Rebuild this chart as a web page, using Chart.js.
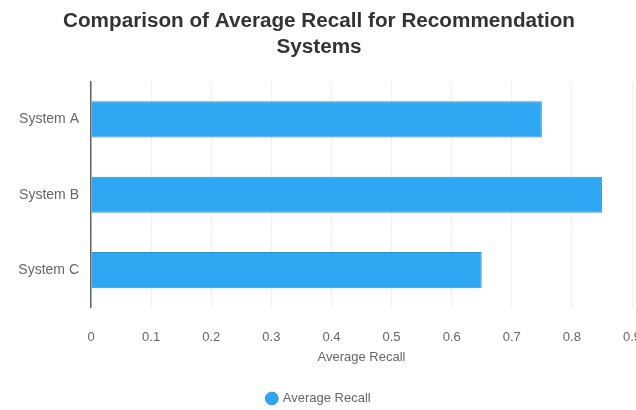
<!DOCTYPE html>
<html>
<head>
<meta charset="utf-8">
<script src="https://cdn.jsdelivr.net/npm/chart.js@4/dist/chart.umd.min.js"></script>
<style>
  html, body { margin: 0; padding: 0; background: #fff; }
  #wrap { width: 636px; height: 410px; }
</style>
</head>
<body>
<div id="wrap"><canvas id="chart"></canvas></div>
<script>
const systems = ["System A", "System B", "System C"];
const avgRecall = [0.75, 0.85, 0.65];
const seriesLabel = "Average Recall";
const chartTitle = ["Comparison of Average Recall for Recommendation", "Systems"];

const barColor = "#2ea6f2";
const barEdge = "#2b93dc";
const tickColor = "#666";
const fontFamily = "Liberation Sans, Arial, sans-serif";

new Chart(document.getElementById("chart"), {
  type: "bar",
  data: {
    labels: systems,
    datasets: [
      {
        label: seriesLabel,
        data: avgRecall,
        backgroundColor: barColor,
        borderColor: barEdge,
        borderWidth: 1,
        barPercentage: 0.6,
        categoryPercentage: 0.8,
      },
    ],
  },
  options: {
    indexAxis: "y",
    responsive: true,
    maintainAspectRatio: false,
    animation: false,
    layout: { padding: { left: 2, right: 0, top: 2, bottom: -5 } },
    plugins: {
      title: {
        display: true,
        text: chartTitle,
        color: "#333",
        font: { family: fontFamily, size: 20.7, weight: "bold", lineHeight: 1.25 },
        padding: { top: 6, bottom: 22 },
      },
      legend: {
        display: true,
        position: "bottom",
        labels: {
          usePointStyle: true,
          pointStyle: "circle",
          boxWidth: 9,
          boxHeight: 9,
          color: tickColor,
          font: { family: fontFamily, size: 13 },
          padding: 11,
        },
      },
    },
    scales: {
      x: {
        min: 0,
        max: 0.9,
        afterFit(scale) {
          // let the last tick label run off the right edge like the original
          scale.paddingRight = 4;
        },
        ticks: {
          stepSize: 0.1,
          color: tickColor,
          font: { family: fontFamily, size: 13 },
          padding: 22,
        },
        grid: { color: "rgba(0,0,0,0.06)", drawTicks: false },
        border: { display: false },
        title: {
          display: true,
          text: seriesLabel,
          color: tickColor,
          font: { family: fontFamily, size: 13 },
          padding: { top: -18, bottom: 16 },
        },
      },
      y: {
        afterFit(scale) {
          scale.width = 89;
        },
        ticks: {
          color: tickColor,
          font: { family: fontFamily, size: 14 },
          padding: 12,
        },
        grid: { display: false, drawTicks: false },
        border: { display: true, color: "#666", width: 1.5 },
      },
    },
  },
});
</script>
</body>
</html>
